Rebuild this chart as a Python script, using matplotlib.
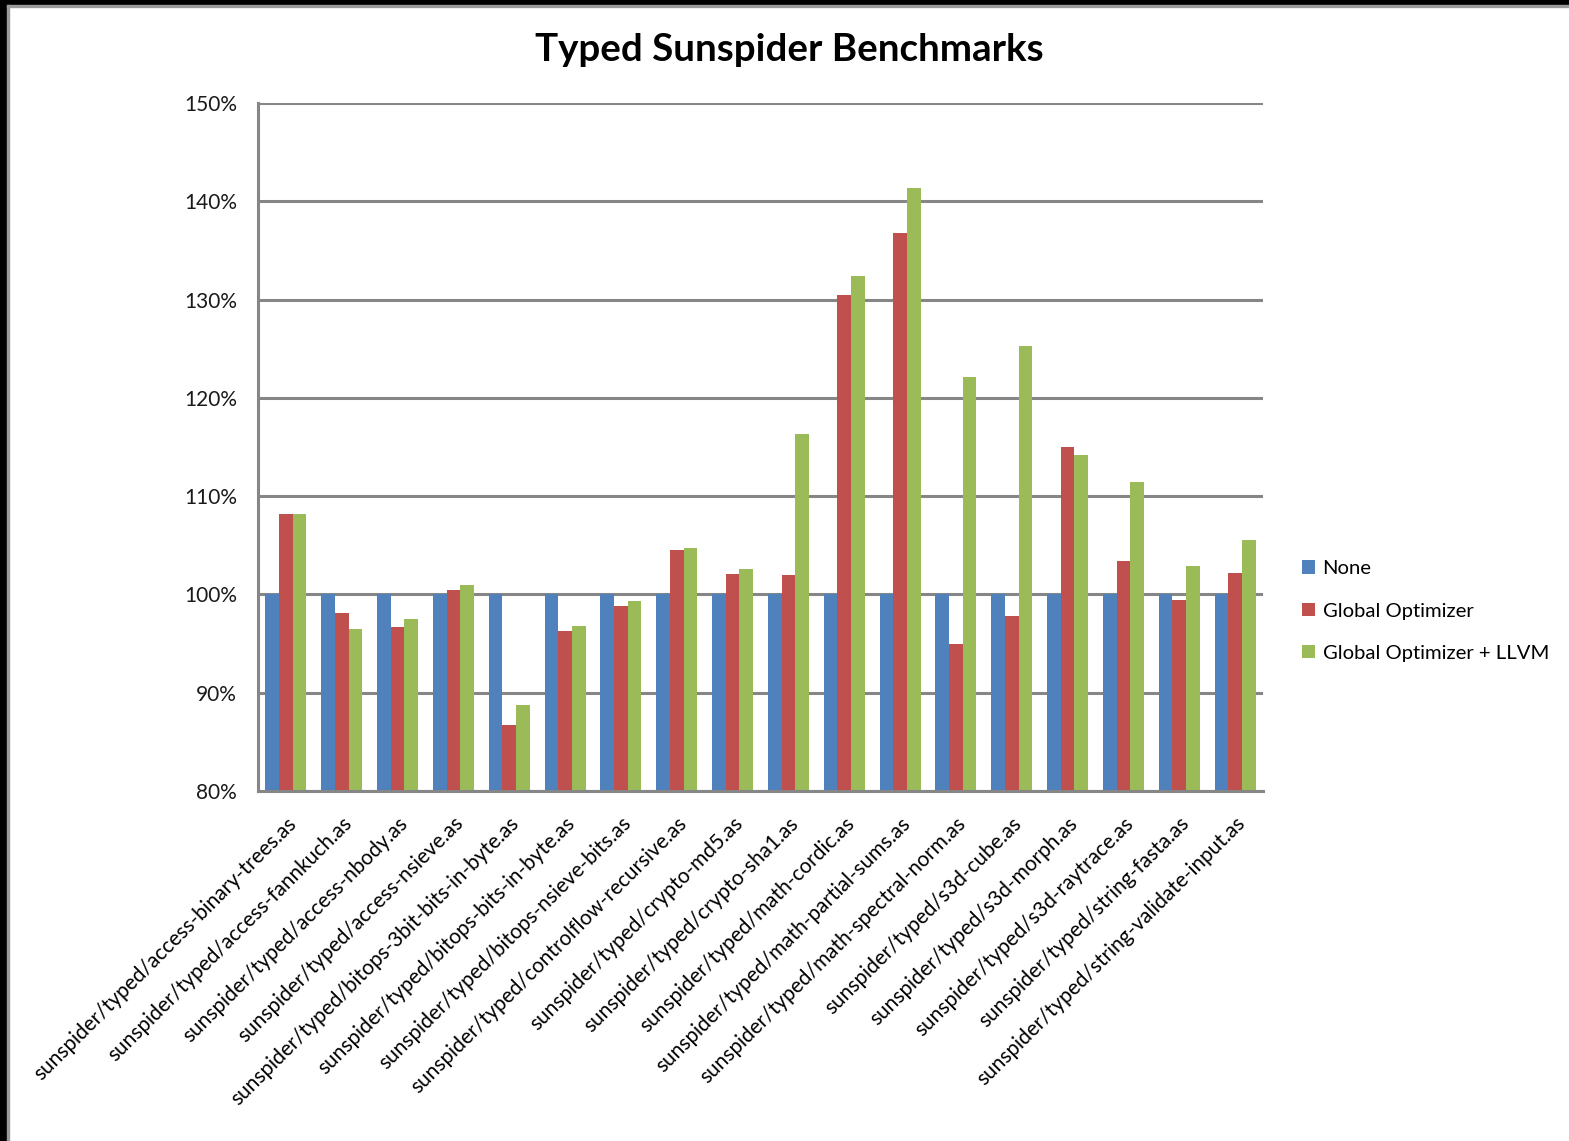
"""
Typed Sunspider Benchmarks: 3系列の棒グラフを out.png に保存する。
"""

import numpy as np
import matplotlib.pyplot as plt
from matplotlib.patches import Rectangle
from matplotlib.ticker import PercentFormatter

plt.rcParams['font.family'] = ['Lato', 'DejaVu Sans']

benchmarks = [
    "sunspider/typed/access-binary-trees.as",
    "sunspider/typed/access-fannkuch.as",
    "sunspider/typed/access-nbody.as",
    "sunspider/typed/access-nsieve.as",
    "sunspider/typed/bitops-3bit-bits-in-byte.as",
    "sunspider/typed/bitops-bits-in-byte.as",
    "sunspider/typed/bitops-nsieve-bits.as",
    "sunspider/typed/controlflow-recursive.as",
    "sunspider/typed/crypto-md5.as",
    "sunspider/typed/crypto-sha1.as",
    "sunspider/typed/math-cordic.as",
    "sunspider/typed/math-partial-sums.as",
    "sunspider/typed/math-spectral-norm.as",
    "sunspider/typed/s3d-cube.as",
    "sunspider/typed/s3d-morph.as",
    "sunspider/typed/s3d-raytrace.as",
    "sunspider/typed/string-fasta.as",
    "sunspider/typed/string-validate-input.as",
]

# 値は % (None = 100%)
none = [100.0] * 18
global_opt = [108.2, 98.1, 96.7, 100.4, 86.7, 96.3, 98.8, 104.5, 102.1,
              102.0, 130.5, 136.8, 95.0, 97.8, 115.0, 103.4, 99.4, 102.2]
global_llvm = [108.2, 96.5, 97.5, 101.0, 88.8, 96.8, 99.3, 104.7, 102.6,
               116.3, 132.4, 141.4, 122.1, 125.3, 114.2, 111.4, 102.9, 105.5]

series = [
    ("None", none, "#4F81BD"),
    ("Global Optimizer", global_opt, "#C0504D"),
    ("Global Optimizer + LLVM", global_llvm, "#9BBB59"),
]

W, H = 1569, 1141
fig = plt.figure(figsize=(W / 100, H / 100), dpi=100, facecolor="white")
ax = fig.add_axes([258 / W, 1 - 791 / H, (1263 - 258) / W, (791 - 103) / H])

x = np.arange(len(benchmarks))
bw = 0.245
for i, (name, vals, color) in enumerate(series):
    ax.bar(x + (i - 1) * bw, vals, width=bw, color=color, label=name, zorder=2)

grid_c = "#868686"
ax.set_xlim(-0.5, len(benchmarks) - 0.5)
ax.set_ylim(80, 150)
ax.set_yticks(np.arange(80, 151, 10))
ax.yaxis.set_major_formatter(PercentFormatter(decimals=0))
ax.yaxis.grid(True, color=grid_c, linewidth=2.2, zorder=1)
ax.set_axisbelow(True)
for side in ["top", "right"]:
    ax.spines[side].set_visible(False)
for side in ["left", "bottom"]:
    ax.spines[side].set_color(grid_c)
    ax.spines[side].set_linewidth(2.2)

ax.set_xticks(x)
ax.set_xticklabels(benchmarks, rotation=45, ha="right", rotation_mode="anchor",
                   fontsize=15)
ax.tick_params(axis="x", length=0, pad=16)
ax.tick_params(axis="y", length=0, pad=15, labelsize=15, labelcolor="#1a1a1a")

fig.text(789 / W, 1 - 50 / H, "Typed Sunspider Benchmarks", ha="center",
         va="center", fontsize=27.7, fontweight="bold")

ax.legend(loc="center left", bbox_to_anchor=(1284 / W, 1 - 611 / H),
          bbox_transform=fig.transFigure, frameon=False, fontsize=14.6,
          handlelength=0.65, handleheight=0.65, handletextpad=0.35,
          labelspacing=1.25)

# スクリーンショットの黒い縁 (左と上)
fig.patches.append(Rectangle((0, 0), 7 / W, 1, transform=fig.transFigure,
                             color="black", zorder=10))
fig.patches.append(Rectangle((0, 1 - 5 / H), 1, 5 / H, transform=fig.transFigure,
                             color="black", zorder=10))
fig.patches.append(Rectangle((7 / W, 0), 2 / W, 1 - 5 / H, transform=fig.transFigure,
                             color="#9a9a9a", zorder=10))
fig.patches.append(Rectangle((7 / W, 1 - 7 / H), 1, 2 / H, transform=fig.transFigure,
                             color="#9a9a9a", zorder=10))

fig.savefig("out.png", dpi=100, facecolor="white")
